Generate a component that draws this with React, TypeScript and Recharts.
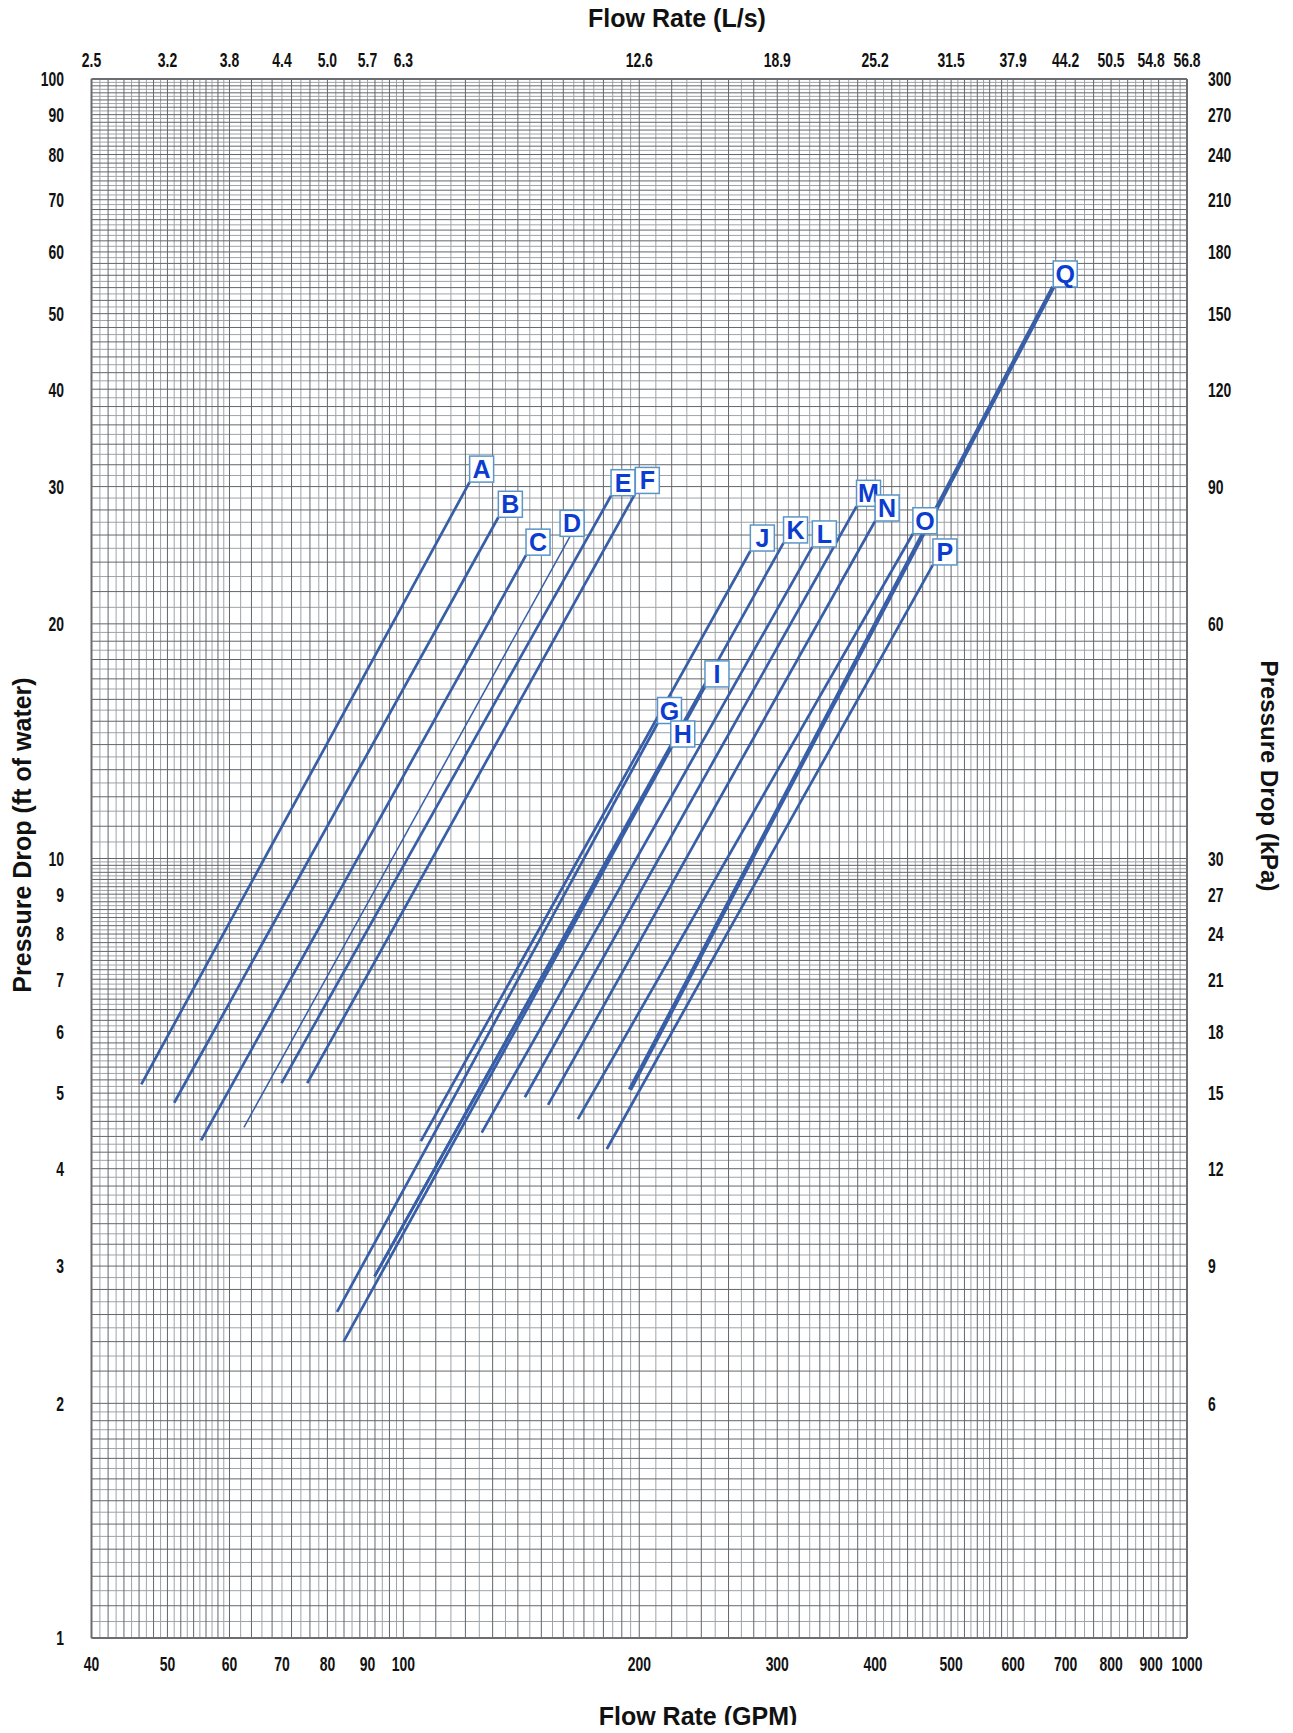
import { LineChart, Line, XAxis, YAxis, CartesianGrid } from 'recharts'

// curve letters and their end points (GPM, ft of water)
const curveNames = ['A', 'B', 'C', 'D', 'E', 'F', 'G', 'H', 'I', 'J', 'K', 'L', 'M', 'N', 'O', 'P', 'Q']
const flowStart = [46.3, 51.0, 55.2, 62.6, 69.9, 75.4, 82.3, 91.9, 83.9, 105.3, 91.9, 125.9, 142.9, 153.0, 167.0, 181.8, 194.6]
const flowEnd = [121.5, 132.2, 143.4, 163.2, 184.1, 197.7, 211.0, 219.4, 242.6, 277.2, 305.6, 332.6, 378.7, 400.0, 446.9, 474.0, 675.0]
const dropStart = [5.13, 4.86, 4.35, 4.52, 5.15, 5.15, 2.62, 2.91, 2.4, 4.34, 2.91, 4.45, 4.94, 4.83, 4.63, 4.24, 5.05]
const dropEnd = [30.4, 27.4, 24.5, 25.9, 29.2, 29.4, 14.9, 13.9, 16.6, 24.8, 25.4, 25.1, 28.3, 27.1, 26.1, 23.8, 54.1]

// axis ticks
const gpmTicks = [40, 50, 60, 70, 80, 90, 100, 200, 300, 400, 500, 600, 700, 800, 900, 1000]
const lpsLabels = ['2.5', '3.2', '3.8', '4.4', '5.0', '5.7', '6.3', '12.6', '18.9', '25.2', '31.5', '37.9', '44.2', '50.5', '54.8', '56.8']
const ftTicks = [1, 2, 3, 4, 5, 6, 7, 8, 9, 10, 20, 30, 40, 50, 60, 70, 80, 90, 100]
const kpaTicks = [6, 9, 12, 15, 18, 21, 24, 27, 30, 60, 90, 120, 150, 180, 210, 240, 270, 300]

const LINE = '#375ea6'
const FONT = '"Liberation Sans", Arial, sans-serif'

// graph-paper rulings
function steps(from: number, to: number, step: number) {
  const out: number[] = []
  for (let v = from; v < to - step / 2; v += step) out.push(+v.toFixed(3))
  return out
}
const gridX = [
  ...steps(40, 60, 1), ...steps(60, 100, 2), ...steps(100, 200, 5),
  ...steps(200, 600, 10), ...steps(600, 1000, 20), 1000,
]
const gridY = [...steps(1, 2, 0.05), ...steps(2, 10, 0.1), ...steps(10, 20, 0.5), ...steps(20, 100, 1), 100]
const darkX = gridX.filter((_, i) => i % 2 === 0)
const lightX = gridX.filter((_, i) => i % 2 === 1)
const darkY = gridY.filter((_, i) => i % 2 === 0)
const lightY = gridY.filter((_, i) => i % 2 === 1)

const strokeFor: Record<string, number> = { D: 1.5, Q: 4.5 }
const tagShift: Record<string, number> = { D: -10 }

const series = curveNames.map((name, i) => ({
  name,
  data: [
    { x: flowStart[i], y: dropStart[i] },
    { x: flowEnd[i], y: dropEnd[i] },
  ],
}))

function Tag({ cx, cy, index, letter }: any) {
  if (index !== 1 || cx == null || cy == null) return <g />
  const w = 24
  const h = 26
  const x0 = cx + (tagShift[letter] ?? 0)
  return (
    <g>
      <rect x={x0} y={cy - h} width={w} height={h} fill="#fff" stroke="#5a94c8" strokeWidth={1.5} />
      <text x={x0 + w / 2} y={cy - 4} textAnchor="middle" fontSize={25} fontWeight="bold" fill="#0b3dcf" fontFamily={FONT}>
        {letter}
      </text>
    </g>
  )
}

// condensed bold tick text, like the printed chart
function NarrowTick({ x, y, payload, textAnchor, side }: any) {
  const fs = 20.5
  const cap = fs * 0.716
  const dy = side === 'bottom' ? cap : side === 'top' ? 0 : cap / 2
  const label = side === 'top' ? lpsLabels[gpmTicks.indexOf(payload.value)] : String(payload.value)
  return (
    <text
      transform={`translate(${x},${y + dy}) scale(0.68,1)`}
      textAnchor={textAnchor}
      fontSize={fs}
      fontWeight="bold"
      fill="#111"
      fontFamily={FONT}
    >
      {label}
    </text>
  )
}

const frame = { stroke: '#6b6d70', strokeWidth: 2 }

const titleStyle: React.CSSProperties = {
  position: 'absolute',
  fontFamily: FONT,
  fontWeight: 'bold',
  fontSize: 25,
  color: '#111',
  whiteSpace: 'nowrap',
  transform: 'translate(-50%, -50%)',
}

export default function App() {
  return (
    <div style={{ position: 'relative', width: 1277, height: 1717 }}>
      <LineChart width={1277} height={1717} margin={{ top: 40, right: 60, bottom: 50, left: 45 }}>
        <CartesianGrid stroke="#9fa3a7" strokeWidth={1} verticalValues={lightX} horizontalValues={lightY} />
        <CartesianGrid stroke="#63666a" strokeWidth={1} verticalValues={darkX} horizontalValues={darkY} />
        <XAxis
          dataKey="x"
          type="number"
          scale="log"
          domain={[40, 1000]}
          allowDataOverflow
          ticks={gpmTicks}
          interval={0}
          tick={<NarrowTick side="bottom" />}
          tickLine={false}
          axisLine={frame}
          height={37}
          tickMargin={12}
        />
        <XAxis
          xAxisId="top"
          dataKey="x"
          orientation="top"
          type="number"
          scale="log"
          domain={[40, 1000]}
          allowDataOverflow
          ticks={gpmTicks}
          interval={0}
          tick={<NarrowTick side="top" />}
          tickLine={false}
          axisLine={frame}
          height={31}
          tickMargin={6}
        />
        <YAxis
          type="number"
          scale="log"
          domain={[1, 100]}
          allowDataOverflow
          ticks={ftTicks}
          interval={0}
          tick={<NarrowTick side="left" />}
          tickLine={false}
          axisLine={frame}
          width={38.5}
          tickMargin={21.5}
        />
        <YAxis
          yAxisId="right"
          orientation="right"
          type="number"
          scale="log"
          domain={[3, 300]}
          allowDataOverflow
          ticks={kpaTicks}
          interval={0}
          tick={<NarrowTick side="right" />}
          tickLine={false}
          axisLine={frame}
          width={38}
          tickMargin={15}
        />
        {series.map(s => (
          <Line
            key={s.name}
            xAxisId={s.name === 'Q' ? 'top' : 0}
            data={s.data}
            dataKey="y"
            name={s.name}
            type="linear"
            stroke={LINE}
            strokeWidth={strokeFor[s.name] ?? 2.7}
            dot={(p: any) => <Tag key={`${s.name}-${p.index}`} {...p} letter={s.name} />}
            activeDot={false}
            isAnimationActive={false}
          />
        ))}
      </LineChart>
      <div style={{ ...titleStyle, left: 669, top: 10 }}>Flow Rate (L/s)</div>
      <div style={{ ...titleStyle, left: 690, top: 1708 }}>Flow Rate (GPM)</div>
      <div style={{ ...titleStyle, left: 14, top: 827, transform: 'translate(-50%, -50%) rotate(-90deg)' }}>
        Pressure Drop (ft of water)
      </div>
      <div style={{ ...titleStyle, fontSize: 24, left: 1261, top: 768, transform: 'translate(-50%, -50%) rotate(90deg)' }}>
        Pressure Drop (kPa)
      </div>
    </div>
  )
}
